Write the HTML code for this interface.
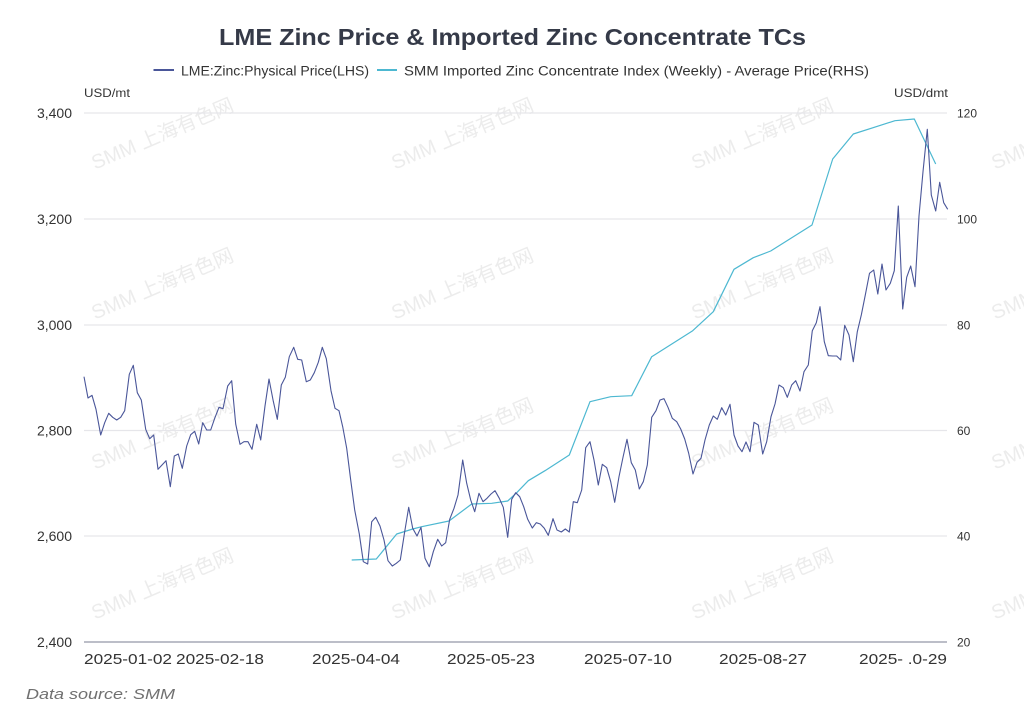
<!DOCTYPE html>
<html>
<head>
<meta charset="utf-8">
<style>
  html, body { margin: 0; padding: 0; background: #ffffff; }
  svg { display: block; }
  text { font-family: "Liberation Sans", "Noto Sans CJK SC", sans-serif; }
</style>
</head>
<body>
<svg width="1024" height="722" viewBox="0 0 1024 722" xmlns="http://www.w3.org/2000/svg">
  <rect x="0" y="0" width="1024" height="722" fill="#ffffff"/>

  <!-- watermarks -->
  <g fill="#ececec" font-size="20" text-anchor="middle">
    <text transform="translate(165,140) rotate(-23)">SMM 上海有色网</text>
    <text transform="translate(465,140) rotate(-23)">SMM 上海有色网</text>
    <text transform="translate(765,140) rotate(-23)">SMM 上海有色网</text>
    <text transform="translate(1065,140) rotate(-23)">SMM 上海有色网</text>
    <text transform="translate(165,290) rotate(-23)">SMM 上海有色网</text>
    <text transform="translate(465,290) rotate(-23)">SMM 上海有色网</text>
    <text transform="translate(765,290) rotate(-23)">SMM 上海有色网</text>
    <text transform="translate(1065,290) rotate(-23)">SMM 上海有色网</text>
    <text transform="translate(165,440) rotate(-23)">SMM 上海有色网</text>
    <text transform="translate(465,440) rotate(-23)">SMM 上海有色网</text>
    <text transform="translate(765,440) rotate(-23)">SMM 上海有色网</text>
    <text transform="translate(1065,440) rotate(-23)">SMM 上海有色网</text>
    <text transform="translate(165,590) rotate(-23)">SMM 上海有色网</text>
    <text transform="translate(465,590) rotate(-23)">SMM 上海有色网</text>
    <text transform="translate(765,590) rotate(-23)">SMM 上海有色网</text>
    <text transform="translate(1065,590) rotate(-23)">SMM 上海有色网</text>
  </g>

  <!-- title -->
  <text x="219" y="45" font-size="23.5" font-weight="bold" fill="#353a48" textLength="587" lengthAdjust="spacingAndGlyphs">LME Zinc Price &amp; Imported Zinc Concentrate TCs</text>

  <!-- legend -->
  <line x1="153.5" y1="70" x2="174" y2="70" stroke="#4a5699" stroke-width="2"/>
  <text x="181" y="75.5" font-size="13.5" fill="#333333" textLength="188" lengthAdjust="spacingAndGlyphs">LME:Zinc:Physical Price(LHS)</text>
  <line x1="377" y1="70" x2="397" y2="70" stroke="#4db8d1" stroke-width="2"/>
  <text x="404" y="75.5" font-size="13.5" fill="#333333" textLength="465" lengthAdjust="spacingAndGlyphs">SMM Imported Zinc Concentrate Index (Weekly) - Average Price(RHS)</text>

  <!-- axis names -->
  <text x="84" y="97" font-size="12" fill="#333333" textLength="46" lengthAdjust="spacingAndGlyphs">USD/mt</text>
  <text x="894" y="97" font-size="12" fill="#333333" textLength="54" lengthAdjust="spacingAndGlyphs">USD/dmt</text>

  <!-- grid lines -->
  <g stroke="#e6e6ea" stroke-width="1.3">
    <line x1="84" y1="113" x2="947" y2="113"/>
    <line x1="84" y1="219" x2="947" y2="219"/>
    <line x1="84" y1="325" x2="947" y2="325"/>
    <line x1="84" y1="430.5" x2="947" y2="430.5"/>
    <line x1="84" y1="536" x2="947" y2="536"/>
  </g>
  <line x1="84" y1="642" x2="947" y2="642" stroke="#a6a9b6" stroke-width="1.5"/>

  <!-- left axis labels -->
  <g font-size="14" fill="#333333" text-anchor="end">
    <text x="72" y="118">3,400</text>
    <text x="72" y="224">3,200</text>
    <text x="72" y="330">3,000</text>
    <text x="72" y="435.5">2,800</text>
    <text x="72" y="541">2,600</text>
    <text x="72" y="647">2,400</text>
  </g>

  <!-- right axis labels -->
  <g font-size="12" fill="#333333">
    <text x="957" y="117.5">120</text>
    <text x="957" y="223.5">100</text>
    <text x="957" y="329.5">80</text>
    <text x="957" y="435">60</text>
    <text x="957" y="540.5">40</text>
    <text x="957" y="646.5">20</text>
  </g>

  <!-- x axis labels -->
  <g font-size="15" fill="#333333">
    <text x="84" y="664" textLength="88" lengthAdjust="spacingAndGlyphs">2025-01-02</text>
    <text x="176" y="664" textLength="88" lengthAdjust="spacingAndGlyphs">2025-02-18</text>
    <text x="312" y="664" textLength="88" lengthAdjust="spacingAndGlyphs">2025-04-04</text>
    <text x="447" y="664" textLength="88" lengthAdjust="spacingAndGlyphs">2025-05-23</text>
    <text x="584" y="664" textLength="88" lengthAdjust="spacingAndGlyphs">2025-07-10</text>
    <text x="719" y="664" textLength="88" lengthAdjust="spacingAndGlyphs">2025-08-27</text>
    <text x="859" y="664" textLength="88" lengthAdjust="spacingAndGlyphs">2025- .0-29</text>
  </g>

  <!-- SMM series (RHS) -->
  <polyline fill="none" stroke="#4db8d1" stroke-width="1.2" stroke-linejoin="round"
    points="351.7,560 376.3,559 396.7,534 412.7,529 421.7,526.7 449,521 471.7,504 491.7,503.3 507.7,501 516.7,492.7 528.3,480.7 545,470.7 569.3,455 590,401.7 610.7,396.7 631.7,395.7 651.7,356.7 692.7,330.7 713.3,311.7 734,269.3 753.3,257.7 770.7,251 812,225 832.7,159 853.3,134 895,120.7 914.3,119 935.7,164"/>

  <!-- LME series (LHS) -->
  <polyline fill="none" stroke="#4a5699" stroke-width="1.1" stroke-linejoin="round"
    points="84,376.7 88,398 92,395.3 96,409.3 100.7,435 104.7,422.7 108.7,413.3 112.7,417.3 116.7,420 120.7,417.3 124.7,410.7 129.3,374.3 133.3,365.3 137.3,392.7 141.3,400 145.7,429.3 149.7,438.7 153.7,435 158,469.3 162,465 166,460.7 170.3,486.7 174.3,456 178.3,454 182.3,468.3 186.7,446 190.7,434.7 194.7,431.3 198.7,444 202.7,422.7 206.7,430 210.7,430 214.7,418.3 219,407.3 223,408.7 227.7,386 231.7,380.7 235.7,424 240,444.3 244,441.7 248,441.7 252,449.3 256.7,424.3 260.7,440 265,406 269,379 273.3,401.3 277.3,419.3 281.3,385 285.3,377.3 289.3,356.7 293.7,347.3 297.7,359.3 301.7,360 306.3,381.7 310.3,380 314.3,372.7 318.3,362.3 322.3,347.3 326.3,358.7 331,390.7 335,408.3 339,410.7 342.7,426.7 346.7,448.3 350.7,480 354.7,510 359.3,534 363.3,561.7 367.7,564 371.7,521.7 375.7,517.3 380,526 384,540 388,560.7 392.3,566 396.3,563.3 400.3,560 404.7,531.7 408.7,507.3 412.7,528.3 417,536 421,527.3 425,558.3 429.3,566.7 433.3,551.7 437.7,539.3 441.7,546 445.7,542.7 449.7,519.3 454,508.3 458,495 462.7,460 466.7,483.3 470.7,500 474.7,511.7 479,493.3 483,501.7 487,498.3 491,494 495,490.7 499.3,498.3 503.3,507.3 507.7,537.3 511.7,499.3 515.7,492.7 519.7,496.7 523.7,506.7 527.7,519.3 532.3,528 536.3,522.7 540.3,524 544.3,528.3 548.3,535.3 553,518.7 557,530 561.3,532 565.3,529 569.3,532 573.3,501.7 577.3,502.7 581.7,490 585.7,447.7 590,441.7 594,460 598.3,485 602.3,464.3 606.7,467.7 610.7,481.7 614.7,502.3 619,476.7 623,457.3 627,439.3 631.3,462.7 635.3,470 639.3,489 643.3,481.7 647.3,465 651.7,417.3 656,410.7 660,400 664,398.7 668,407.3 672.3,418.3 676.7,421.7 680.7,429 684.7,439 688.7,453.3 693,474 697,462.3 701,458.3 705,440 709.3,425 713.3,416 717.3,419.3 721.7,407.7 725.7,415 730,404.3 734,435 738,446 742,451.7 746,442 750,451.7 754,422.3 758.3,425 762.7,454 766.7,441.7 771,416.7 775,404 779,385 783.3,387.7 787.3,397.3 791.7,385 795.7,380.7 800,391 804,371.7 808.3,365 812.3,330.7 816.3,322.7 820,306.7 824.3,341.7 828.3,355.7 832.7,356 836.7,356 840.7,360 844.7,325.3 849,335 853.3,361.7 857.3,331.7 861.3,315 865.3,295 869.5,273.3 873.7,270 877.8,294 882,264 886,290 890.3,283.3 894.3,270.7 898.3,206 902.7,309 906.7,277.3 910.7,266 915,286.7 919,216 923,171.7 927.3,129.3 931.3,195 935.7,211 939.7,182.3 943.7,202.7 947.7,209.3"/>

  <!-- data source -->
  <text x="26" y="699" font-size="15" font-style="italic" fill="#707070" textLength="149" lengthAdjust="spacingAndGlyphs">Data source:  SMM</text>
</svg>
</body>
</html>
